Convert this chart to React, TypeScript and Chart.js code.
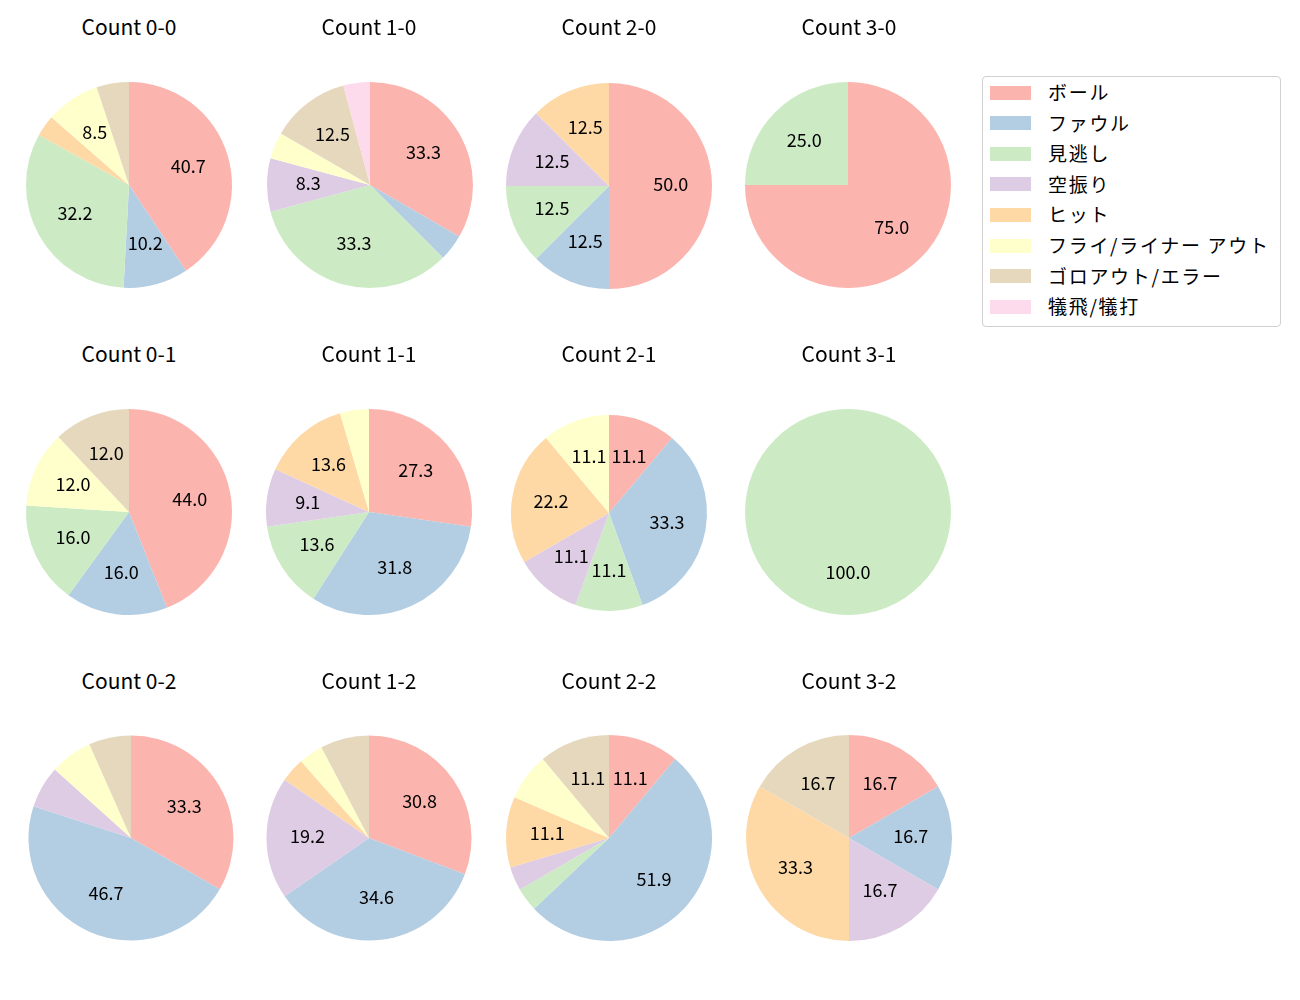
import React, { useEffect, useRef } from "react";
import { Chart, registerables } from "chart.js";

Chart.register(...registerables);

const categories = [
  "ボール",
  "ファウル",
  "見逃し",
  "空振り",
  "ヒット",
  "フライ/ライナー アウト",
  "ゴロアウト/エラー",
  "犠飛/犠打",
];

const colors = [
  "#fbb4ae",
  "#b3cde3",
  "#ccebc5",
  "#decbe4",
  "#fed9a6",
  "#ffffcc",
  "#e5d8bd",
  "#fddaec",
];

const titles = [
  "Count 0-0", "Count 1-0", "Count 2-0", "Count 3-0",
  "Count 0-1", "Count 1-1", "Count 2-1", "Count 3-1",
  "Count 0-2", "Count 1-2", "Count 2-2", "Count 3-2",
];

// pitch counts per category (order of categories)
const count00 = [24, 6, 19, 0, 2, 5, 3, 0];
const count10 = [8, 1, 8, 2, 0, 1, 3, 1];
const count20 = [4, 1, 1, 1, 1, 0, 0, 0];
const count30 = [3, 0, 1, 0, 0, 0, 0, 0];
const count01 = [11, 4, 4, 0, 0, 3, 3, 0];
const count11 = [6, 7, 3, 2, 3, 1, 0, 0];
const count21 = [1, 3, 1, 1, 2, 1, 0, 0];
const count31 = [0, 0, 1, 0, 0, 0, 0, 0];
const count02 = [5, 7, 0, 1, 0, 1, 1, 0];
const count12 = [8, 9, 0, 5, 1, 1, 2, 0];
const count22 = [3, 14, 1, 1, 3, 2, 3, 0];
const count32 = [1, 1, 0, 1, 2, 0, 1, 0];

const allCounts = [
  count00, count10, count20, count30,
  count01, count11, count21, count31,
  count02, count12, count22, count32,
];

const FONT = '"Noto Sans CJK JP", "Noto Sans", sans-serif';
// layout (pixel positions of each pie)
const centersX = [128.5, 369.5, 609, 848, 128.5, 368.5, 609, 848, 131, 369, 609, 848.5];
const centersY = [185, 185, 185.5, 185, 512, 512, 512.5, 512, 837.5, 838, 838, 838];
const radii = [103, 103, 103, 103, 103, 103, 98, 103, 102.5, 102.5, 103, 103];
const titleY = [26, 353, 680];
const BOX = 260;

const pieLabelPlugin = {
  id: "pieLabels",
  afterDatasetsDraw(chart: any) {
    const ctx = chart.ctx;
    const meta = chart.getDatasetMeta(0);
    const data = chart.data.datasets[0].data as number[];
    const total = data.reduce((a: number, b: number) => a + b, 0);
    ctx.save();
    ctx.font = `18px ${FONT}`;
    ctx.fillStyle = "#000";
    ctx.textAlign = "center";
    ctx.textBaseline = "middle";
    meta.data.forEach((arc: any, i: number) => {
      const v = data[i];
      if (!v) return;
      const pct = (v / total) * 100;
      if (pct < 8) return;
      const p = arc.getProps(["x", "y", "startAngle", "endAngle", "outerRadius"], true);
      const mid = (p.startAngle + p.endAngle) / 2;
      const rr = p.outerRadius * 0.6;
      ctx.fillText(pct.toFixed(1), p.x + Math.cos(mid) * rr, p.y + Math.sin(mid) * rr - 1.5);
    });
    ctx.restore();
  },
};

function Pie({ idx }: { idx: number }) {
  const ref = useRef<HTMLCanvasElement>(null);
  const r = radii[idx];
  const pad = BOX / 2 - r;
  useEffect(() => {
    const chart = new Chart(ref.current!, {
      type: "pie",
      data: {
        labels: categories,
        datasets: [
          {
            data: allCounts[idx],
            backgroundColor: colors,
            borderWidth: 0,
          },
        ],
      },
      options: {
        animation: false,
        responsive: false,
        maintainAspectRatio: false,
        layout: { padding: pad },
        plugins: {
          legend: { display: false },
          tooltip: { enabled: false },
        },
      },
      plugins: [pieLabelPlugin],
    });
    return () => chart.destroy();
  }, [idx]);
  const cx = centersX[idx];
  const cy = centersY[idx];
  const colTitleX = [129, 369, 609, 849][idx % 4];
  return (
    <>
      <canvas
        ref={ref}
        width={BOX}
        height={BOX}
        style={{
          position: "absolute",
          left: cx - BOX / 2,
          top: cy - BOX / 2,
          width: BOX,
          height: BOX,
        }}
      />
      <div
        style={{
          position: "absolute",
          left: colTitleX - 100,
          width: 200,
          top: titleY[Math.floor(idx / 4)] - 15,
          height: 30,
          lineHeight: "30px",
          textAlign: "center",
          fontFamily: FONT,
          fontSize: 21,
          color: "#000",
          whiteSpace: "nowrap",
        }}
      >
        {titles[idx]}
      </div>
    </>
  );
}

export default function App() {
  useEffect(() => {
    document.body.style.margin = "0";
  }, []);
  return (
    <div style={{ position: "relative", width: 1300, height: 1000, background: "#fff", overflow: "hidden" }}>
      {titles.map((_, i) => (
        <Pie key={i} idx={i} />
      ))}
      <div
        style={{
          position: "absolute",
          left: 982,
          top: 76,
          width: 299,
          height: 251,
          border: "1px solid #d0d0d0",
          borderRadius: 4,
          boxSizing: "border-box",
          fontFamily: FONT,
          fontSize: 19,
          letterSpacing: "1.7px",
          color: "#000",
        }}
      >
        {categories.map((c, i) => (
          <div
            key={c}
            style={{
              position: "absolute",
              left: 0,
              top: 15.5 + i * 30.6 - 15,
              height: 30,
              display: "flex",
              alignItems: "center",
              whiteSpace: "nowrap",
            }}
          >
            <span
              style={{
                display: "inline-block",
                width: 41,
                height: 14,
                marginLeft: 7,
                marginRight: 17,
                background: colors[i],
              }}
            />
            <span style={{ position: "relative", top: -1 }}>{c}</span>
          </div>
        ))}
      </div>
    </div>
  );
}
